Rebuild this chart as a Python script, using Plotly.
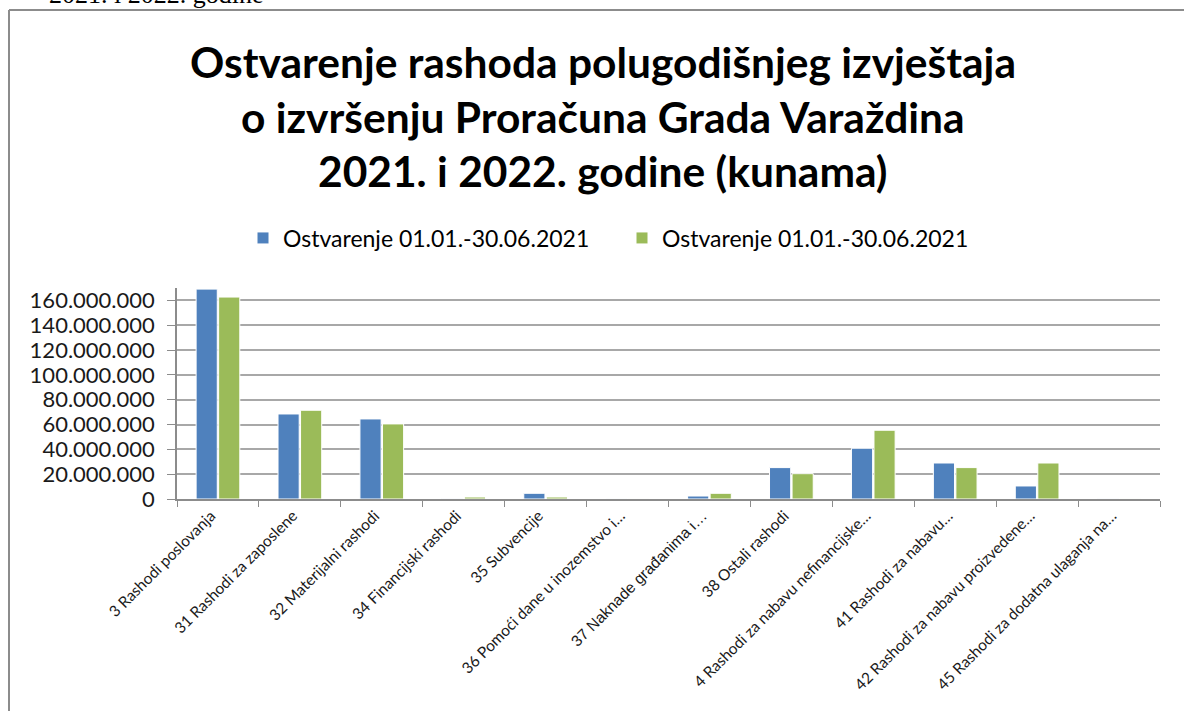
import plotly.graph_objects as go

categories = [
    "3 Rashodi poslovanja",
    "31 Rashodi za zaposlene",
    "32 Materijalni rashodi",
    "34 Financijski rashodi",
    "35 Subvencije",
    "36 Pomoći dane u inozemstvo i…",
    "37 Naknade građanima i…",
    "38 Ostali rashodi",
    "4 Rashodi za nabavu nefinancijske…",
    "41 Rashodi za nabavu…",
    "42 Rashodi za nabavu proizvedene…",
    "45 Rashodi za dodatna ulaganja na…",
]
series1_name = "Ostvarenje 01.01.-30.06.2021"
series2_name = "Ostvarenje 01.01.-30.06.2021"
series1 = [169100000, 68500000, 64500000, 250000, 4600000, 60000, 2400000,
           25300000, 40900000, 29000000, 10500000, 80000]
series2 = [162700000, 71500000, 60500000, 1600000, 1600000, 40000, 4600000,
           20400000, 55400000, 25300000, 29000000, 60000]
y_ticks = [0, 20000000, 40000000, 60000000, 80000000, 100000000,
           120000000, 140000000, 160000000]
title_lines = [
    "Ostvarenje rashoda polugodišnjeg izvještaja",
    "o izvršenju Proračuna Grada Varaždina",
    "2021. i 2022. godine (kunama)",
]
top_text = "2021. i 2022. godine"

W, H = 1184, 711
L, R, T, B = 177, 1160, 288, 499


def px(x):
    return (x - L) / (R - L)


def py(y):
    return (B - y) / (B - T)


# tick label text (one label rendered in a different face, as in the reference)
tick_text = [
    ('<span style="font-family:Liberation Sans;font-size:15.5px">%s</span>' % c) if i == 6 else c
    for i, c in enumerate(categories)
]

fig = go.Figure()
fig.add_trace(go.Bar(x=categories, y=series1, name=series1_name,
                     marker=dict(color="#4F81BD", line=dict(color="white", width=1))))
fig.add_trace(go.Bar(x=categories, y=series2, name=series2_name,
                     marker=dict(color="#9BBB59", line=dict(color="white", width=1))))

annotations = []
for line, yc in zip(title_lines, [62, 116, 170]):
    annotations.append(dict(text=line, xref="paper", yref="paper", x=px(603), y=py(yc),
                            xanchor="center", yanchor="middle", showarrow=False,
                            font=dict(family="Lato", size=42.5, color="#000000", weight="bold")))
annotations.append(dict(text=top_text, xref="paper", yref="paper", x=px(266), y=py(-6),
                        xanchor="right", yanchor="middle", showarrow=False,
                        font=dict(family="Liberation Serif", size=26, color="#000000")))

shapes = [
    dict(type="line", xref="paper", yref="paper", x0=px(9), x1=px(1190), y0=py(10), y1=py(10),
         line=dict(color="#8C8C8C", width=2)),
    dict(type="line", xref="paper", yref="paper", x0=px(9), x1=px(9), y0=py(10), y1=py(720),
         line=dict(color="#8C8C8C", width=2)),
]

fig.update_layout(
    width=W, height=H,
    margin=dict(l=L, r=W - R, t=T, b=H - B, autoexpand=False),
    paper_bgcolor="white", plot_bgcolor="white",
    separators=",.",
    barmode="group", bargap=0.45, bargroupgap=0.06,
    font=dict(family="Lato", color="#000000"),
    showlegend=True,
    legend=dict(orientation="h", x=px(243), xanchor="left", y=py(238), yanchor="middle",
                font=dict(family="Lato", size=23, color="#000000"),
                entrywidth=334, entrywidthmode="pixels", traceorder="normal",
                bgcolor="rgba(0,0,0,0)"),
    annotations=annotations,
    shapes=shapes,
)
fig.update_xaxes(
    type="category", showline=True, linecolor="#8C8C8C", linewidth=1.5,
    ticks="outside", tickson="boundaries", ticklen=6, tickcolor="#8C8C8C",
    tickangle=-45, tickfont=dict(family="Lato", size=15.5, color="#1A1A1A"),
    tickmode="array", tickvals=categories, ticktext=tick_text, ticklabelshift=-7,
    showgrid=False, zeroline=False,
)
fig.update_yaxes(
    range=[0, 170000000], tickvals=y_ticks, tickformat=",.0f",
    showline=True, linecolor="#8C8C8C", linewidth=1.5,
    ticks="outside", ticklen=8, tickcolor="#8C8C8C",
    showgrid=True, gridcolor="#A8A8A8", gridwidth=1.5, zeroline=False,
    tickfont=dict(family="Lato", size=22, color="#1A1A1A"), ticklabelstandoff=8,
)

fig.write_html(
    "out.html",
    config={"displayModeBar": False},
    post_script="document.body.style.margin='0';document.body.style.overflow='hidden';",
)
